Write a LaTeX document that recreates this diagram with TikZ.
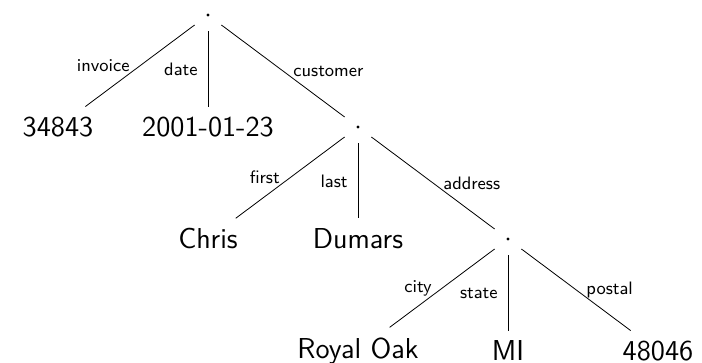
\documentclass[tikz,border=0pt]{standalone}
\usepackage{fontspec}
\begin{document}
\begin{tikzpicture}[x=0.5pt,y=-0.5pt,
  inner/.style={minimum width=13pt,minimum height=16pt,inner sep=0pt},
  leaf/.style={inner sep=5pt,font=\sffamily\Large},
  lbl/.style={inner sep=5pt,font=\sffamily\small},
  dotc/.style={fill=black}]
\useasboundingbox (0,0) rectangle (702,363);
% internal nodes
\node[inner] (r) at (208,15) {};
\node[inner] (c) at (358,127) {};
\node[inner] (d) at (508,239) {};
\fill[dotc] (r) circle (0.85pt);
\fill[dotc] (c) circle (0.85pt);
\fill[dotc] (d) circle (0.85pt);
% leaves
\node[leaf] (a) at (58,127) {34843};
\node[leaf] (b) at (208,127) {2001-01-23};
\node[leaf] (c1) at (208,239) {Chris};
\node[leaf] (c2) at (358,239) {Dumars};
\node[leaf] (e1) at (358,351) {Royal Oak};
\node[leaf] (e2) at (508,351) {MI};
\node[leaf] (e3) at (658,351) {48046};
% edges
\draw (r) -- node[lbl,left] {invoice} (a);
\draw (r) -- node[lbl,left] {date} (b);
\draw (r) -- node[lbl,right] {customer} (c);
\draw (c) -- node[lbl,left] {first} (c1);
\draw (c) -- node[lbl,left] {last} (c2);
\draw (c) -- node[lbl,right] {address} (d);
\draw (d) -- node[lbl,left] {city} (e1);
\draw (d) -- node[lbl,left] {state} (e2);
\draw (d) -- node[lbl,right] {postal} (e3);
\end{tikzpicture}
\end{document}
